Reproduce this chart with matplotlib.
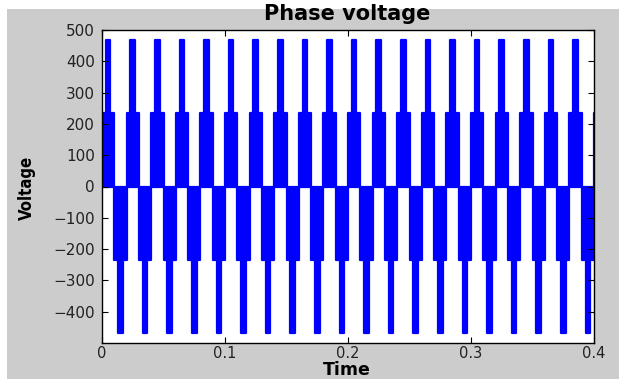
import matplotlib
matplotlib.use("Agg")
import matplotlib.pyplot as plt
from matplotlib.patches import Rectangle

# ---- data ----
cycle_starts = [0.00, 0.02, 0.04, 0.06, 0.08, 0.10, 0.12, 0.14, 0.16, 0.18,
                0.20, 0.22, 0.24, 0.26, 0.28, 0.30, 0.32, 0.34, 0.36, 0.38, 0.40]
period = 0.02
level_low = 233.3      # Vdc/3
level_high = 466.7     # 2Vdc/3
# within one period: start fraction, end fraction, bottom, top of each band
pattern_frac_start = [0.0, 0.155, 0.5, 0.655]
pattern_frac_end = [0.5, 0.345, 1.0, 0.845]
pattern_bottom = [0.0, level_low, -level_low, -level_high]
pattern_top = [level_low, level_high, 0.0, -level_low]

xticks = [0, 0.1, 0.2, 0.3, 0.4]
xticklabels = ["0", "0.1", "0.2", "0.3", "0.4"]
yticks = [-400, -300, -200, -100, 0, 100, 200, 300, 400, 500]

W, H = 619, 379
fig = plt.figure(figsize=(W / 100, H / 100), dpi=100, facecolor="white")
# grey figure area (white border at left/top in the reference)
bg = Rectangle((7 / W, 0), 1 - 7 / W, 1 - 9 / H,
               transform=fig.transFigure, facecolor="#cccccc",
               edgecolor="none", zorder=-10)
fig.patches.append(bg)

ax = fig.add_axes([102 / W, 1 - 343 / H, (594 - 102) / W, (343 - 30) / H])
ax.set_zorder(1)
ax.set_facecolor("white")

blue = "#0000ff"
for c in cycle_starts:
    for fs, fe, b, t in zip(pattern_frac_start, pattern_frac_end,
                            pattern_bottom, pattern_top):
        ax.bar(c + fs * period, t - b, width=(fe - fs) * period, bottom=b,
               align="edge", color=blue, edgecolor=blue, linewidth=1.6,
               joinstyle="round", clip_on=True)

ax.set_xlim(0, 0.4)
ax.set_ylim(-500, 500)
ax.set_xticks(xticks)
ax.set_xticklabels(xticklabels)
ax.set_yticks(yticks)

for lab in ax.get_xticklabels() + ax.get_yticklabels():
    lab.set_fontfamily("DejaVu Sans")
    lab.set_fontsize(11)
    lab.set_color("#222222")
for lab in ax.get_xticklabels():
    lab.set_fontsize(10.5)

ax.tick_params(direction="in", length=4, width=0.8, top=True, right=True,
               colors="black", labelcolor="#222222")
ax.tick_params(axis="x", pad=2)
ax.tick_params(axis="y", pad=5)
for s in ax.spines.values():
    s.set_linewidth(1.0)
    s.set_color("black")

fig.text(347 / W, 1 - 20 / H, "Phase voltage", ha="center", va="baseline",
         fontsize=15, fontweight="bold", family="DejaVu Sans")
fig.text(347 / W, 1 - 375 / H, "Time", ha="center", va="baseline",
         fontsize=12.5, fontweight="bold", family="DejaVu Sans")
fig.text(27 / W, 1 - 188 / H, "Voltage", ha="center", va="center",
         rotation=90, fontsize=12, fontweight="bold", family="DejaVu Sans",
         fontstretch="condensed")

fig.savefig("out.png", dpi=100, facecolor=fig.get_facecolor())
